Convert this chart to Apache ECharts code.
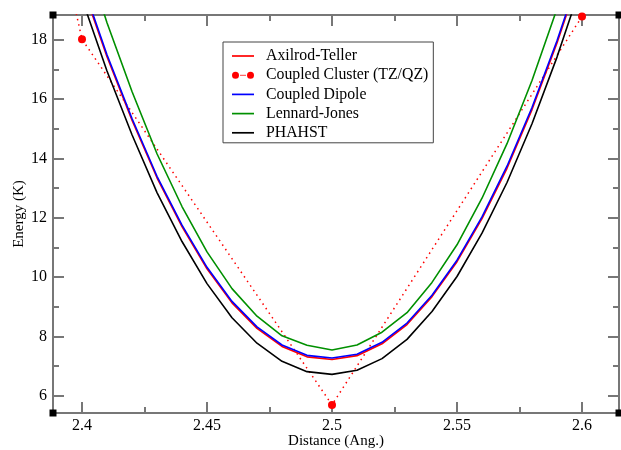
<!DOCTYPE html>
<html>
<head>
<meta charset="utf-8">
<script src="https://cdn.jsdelivr.net/npm/echarts@6/dist/echarts.min.js"></script>
<style>
html,body{margin:0;padding:0;background:#fff;}
#chart{width:621px;height:450px;}
</style>
</head>
<body>
<div id="chart"></div>
<script>
// ---- data ----
const distance = [2.40, 2.41, 2.42, 2.43, 2.44, 2.45, 2.46, 2.47, 2.48, 2.49, 2.50,
                  2.51, 2.52, 2.53, 2.54, 2.55, 2.56, 2.57, 2.58, 2.59, 2.60];
const axilrodTeller = [19.85, 17.43, 15.29, 13.35, 11.70, 10.28, 9.13, 8.27, 7.66, 7.31, 7.22,
                       7.35, 7.75, 8.40, 9.34, 10.52, 11.97, 13.67, 15.65, 17.90, 20.40];
const coupledDipole = [19.93, 17.50, 15.35, 13.40, 11.75, 10.33, 9.18, 8.32, 7.71, 7.36, 7.27,
                       7.40, 7.80, 8.45, 9.39, 10.57, 12.03, 13.74, 15.72, 17.97, 20.48];
const lennardJones = [21.20, 18.58, 16.26, 14.16, 12.38, 10.85, 9.61, 8.68, 8.02, 7.70, 7.54,
                      7.71, 8.14, 8.80, 9.82, 11.09, 12.66, 14.50, 16.63, 19.05, 21.75];
const phahst = [19.38, 16.95, 14.80, 12.85, 11.20, 9.78, 8.63, 7.77, 7.16, 6.81, 6.72,
                6.86, 7.25, 7.90, 8.84, 10.02, 11.48, 13.19, 15.17, 17.42, 19.93];
const ccDistance = [2.35, 2.40, 2.50, 2.60];
const ccEnergy = [37.0, 18.02, 5.69, 18.79];

const seriesNames = ['Axilrod-Teller', 'Coupled Cluster (TZ/QZ)', 'Coupled Dipole', 'Lennard-Jones', 'PHAHST'];
const xMajorTicks = [2.4, 2.45, 2.5, 2.55, 2.6];
const xMinorTicks = [2.425, 2.475, 2.525, 2.575];
const yMajorTicks = [6, 8, 10, 12, 14, 16, 18];
const yMinorTicks = [7, 9, 11, 13, 15, 17];
const xTitle = 'Distance (Ang.)';
const yTitle = 'Energy (K)';

// ---- chart ----
const X_MIN = 2.3884, X_MAX = 2.6148, Y_MIN = 5.416, Y_MAX = 18.84;
const AX = '#777';
const FONT = 'Liberation Serif';

function pairs(xs, ys) { return xs.map((x, i) => [x, ys[i]]); }

function xAxisDef(pos, ticks, len, showLine, showLabel) {
  return {
    type: 'value', position: pos, min: X_MIN, max: X_MAX,
    splitLine: { show: false },
    axisLine: { show: showLine, onZero: false, lineStyle: { color: AX, width: 2 } },
    axisTick: { show: true, inside: true, length: len, customValues: ticks, lineStyle: { color: AX, width: 2 } },
    axisLabel: showLabel ? { show: true, customValues: ticks, margin: 5, color: '#000', fontFamily: FONT, fontSize: 16 } : { show: false },
    name: showLabel ? xTitle : '', nameLocation: 'middle', nameGap: 21, nameMoveOverlap: false,
    nameTextStyle: { color: '#000', fontFamily: FONT, fontSize: 15 }
  };
}
function yAxisDef(pos, ticks, len, showLine, showLabel) {
  return {
    type: 'value', position: pos, min: Y_MIN, max: Y_MAX,
    splitLine: { show: false },
    axisLine: { show: showLine, onZero: false, lineStyle: { color: AX, width: 2 } },
    axisTick: { show: true, inside: true, length: len, customValues: ticks, lineStyle: { color: AX, width: 2 } },
    axisLabel: showLabel ? { show: true, customValues: ticks, margin: 6, color: '#000', fontFamily: FONT, fontSize: 16 } : { show: false },
    name: showLabel ? yTitle : '', nameLocation: 'middle', nameGap: 26, nameMoveOverlap: false,
    nameTextStyle: { color: '#000', fontFamily: FONT, fontSize: 15 }
  };
}

const chart = echarts.init(document.getElementById('chart'), null, { renderer: 'canvas' });

const ccIcon = 'path://M0,3.5a3.5,3.5 0 1,0 7,0a3.5,3.5 0 1,0 -7,0Z M8.4,3h1.2v1.2h-1.2Z M10.4,3h1.2v1.2h-1.2Z M12.4,3h1.2v1.2h-1.2Z M15,3.5a3.5,3.5 0 1,0 7,0a3.5,3.5 0 1,0 -7,0Z';
const lineIcon = 'path://M0,0H22V1.7H0Z';

function lineSeries(name, ys, color) {
  return {
    name: name, type: 'line', xAxisIndex: 0, yAxisIndex: 0,
    data: pairs(distance, ys), symbol: 'none', smooth: false,
    lineStyle: { color: color, width: 1.6 }, itemStyle: { color: color },
    animation: false, clip: true
  };
}

chart.setOption({
  animation: false,
  backgroundColor: '#fff',
  grid: { left: 53, right: 2, top: 15, bottom: 37, containLabel: false, outerBoundsMode: 'none' },
  xAxis: [
    xAxisDef('bottom', xMajorTicks, 11, true, true),
    xAxisDef('bottom', xMinorTicks, 6, false, false),
    xAxisDef('top', xMajorTicks, 11, true, false),
    xAxisDef('top', xMinorTicks, 6, false, false)
  ],
  yAxis: [
    yAxisDef('left', yMajorTicks, 11, true, true),
    yAxisDef('left', yMinorTicks, 6, false, false),
    yAxisDef('right', yMajorTicks, 11, true, false),
    yAxisDef('right', yMinorTicks, 6, false, false)
  ],
  legend: {
    orient: 'vertical', left: 223, top: 42,
    backgroundColor: '#fff', borderColor: '#444', borderWidth: 1,
    padding: [6, 5, 2, 9],
    itemWidth: 22, itemHeight: 12, itemGap: 3.2,
    textStyle: { color: '#000', fontFamily: FONT, fontSize: 15.8, lineHeight: 15, padding: [0, 0, 0, 7] },
    data: [
      { name: seriesNames[0], icon: lineIcon, itemStyle: { borderWidth: 0 } },
      { name: seriesNames[1], icon: ccIcon, itemStyle: { borderWidth: 0 } },
      { name: seriesNames[2], icon: lineIcon, itemStyle: { borderWidth: 0 } },
      { name: seriesNames[3], icon: lineIcon, itemStyle: { borderWidth: 0 } },
      { name: seriesNames[4], icon: lineIcon, itemStyle: { borderWidth: 0 } }
    ],
    selectedMode: false
  },
  series: [
    lineSeries(seriesNames[0], axilrodTeller, '#ff0000'),
    {
      name: seriesNames[1], type: 'line', xAxisIndex: 0, yAxisIndex: 0,
      data: pairs(ccDistance, ccEnergy), symbol: 'circle', symbolSize: 8, showSymbol: true,
      lineStyle: { color: '#ff0000', width: 1.5, type: [1.5, 4] },
      itemStyle: { color: '#ff0000' }, animation: false, clip: true
    },
    lineSeries(seriesNames[2], coupledDipole, '#0000ff'),
    lineSeries(seriesNames[3], lennardJones, '#009000'),
    lineSeries(seriesNames[4], phahst, '#000000')
  ]
});

// corner markers of the frame
const corners = [[X_MIN, Y_MIN], [X_MAX, Y_MIN], [X_MIN, Y_MAX], [X_MAX, Y_MAX]];
chart.setOption({
  graphic: corners.map(c => {
    const p = chart.convertToPixel({ gridIndex: 0 }, c);
    return { type: 'rect', shape: { x: Math.round(p[0]) - 3.5, y: Math.round(p[1]) - 3.5, width: 7, height: 7 }, style: { fill: '#000' }, z: 100 };
  })
});
</script>
</body>
</html>
